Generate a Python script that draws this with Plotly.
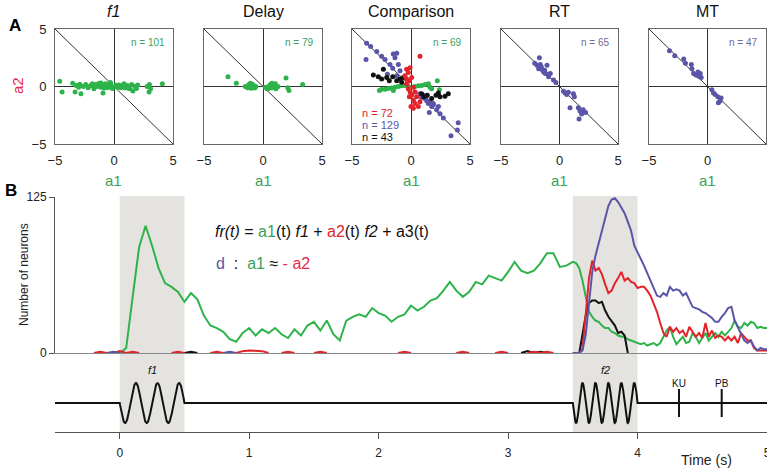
import numpy as np
import plotly.graph_objects as go

N = None
W, H = 767, 469

# ---------------- Panel B data ----------------
T1_START, T1_STEP, T1_LEN = -0.5, 0.05, 80     # -0.5 .. 3.45
T2_START, T2_STEP, T2_LEN = 3.5, 0.025, 61     # 3.5 .. 5.0
TIME = [round(T1_START + T1_STEP * i, 3) for i in range(T1_LEN)] + \
       [round(T2_START + T2_STEP * i, 3) for i in range(T2_LEN)]

green_t1 = [N, N, N, N, N, N, N, N, N, N,
            0, 4, 45, 85, 102, 86, 68, 56, 53, 49,
            41, 48, 43, 30, 22, 20, 17, 11, 9, 16,
            20, 14, 19, 16, 20, 15, 12, 19, 14, 22,
            25, 18, 26, 15, 10, 26, 29, 31, 29, 36,
            32, 30, 25, 29, 31, 38, 34, 37, 42, 44,
            50, 57, 50, 45, 49, 57, 55, 62, 60, 58,
            65, 73, 66, 64, 66, 72, 80, 80, 69, 70]
green_t2 = [73, 72, 68, 58, 45, 33, 29, 26, 25, 22,
            20, 20, 17, 16, 14, 13, 13, 11, 10, 9,
            8, 7, 8, 6, 7, 8, 6, 8, 13, 18,
            21, 13, 7, 10, 13, 8, 9, 16, 13, 8,
            12, 16, 10, 13, 16, 13, 17, 14, 17, 20,
            26, 21, 20, 24, 22, 25, 24, 20, 21, 20,
            20]

red_t1 = [N, N, N, N, N, N, 0, 1, 0, 0,
          1.5, 0, 1, 0, N, N, N, N, 0, 1,
          0, N, N, N, 0, 1, 0, N, 0, 1.5,
          2, 2, 1.5, 0, N, 0, 1, 0, N, N,
          0, 1, 0, N, N, N, N, N, N, N,
          N, N, N, 0, 1, 0, N, N, N, N,
          N, N, 0, 1, 0, N, N, N, 0, 1,
          0, N, N, 0, 1, 0, 1, 0, N, N]
red_t2 = [0, 0, 0, 3, 30, 60, 74, 66, 68, 63,
          55, 48, 50, 56, 60, 65, 58, 60, 57, 56,
          52, 53, 53, 50, 46, 40, 33, 24, 16, 13,
          21, 17, 20, 16, 18, 13, 21, 17, 13, 16,
          12, 24, 13, 18, 12, 14, 13, 10, 13, 10,
          13, 8, 16, 13, 10, 10, 4, 2, 2, 2,
          2]

blue_t1 = [N, N, N, N, N, N, N, N, 0, 1,
           0, N, N, N, N, N, N, N, N, N,
           N, N, N, N, N, N, 0, 1, 0, N,
           N, N, N, N, N, N, N, N, N, N,
           N, N, N, N, N, N, N, N, N, N,
           N, N, N, N, N, N, N, N, N, N,
           N, N, N, N, N, N, N, N, N, N,
           N, N, N, N, N, N, N, N, N, N]
blue_t2 = [0, 0, 0, 2, 15, 40, 65, 78, 88, 98,
           109, 118, 123, 124, 121, 117, 112, 105, 98, 86,
           81, 76, 70, 64, 58, 53, 46, 45, 48, 46,
           53, 50, 51, 50, 46, 48, 42, 37, 36, 35,
           33, 32, 30, 28, 25, 25, 29, 32, 36, 37,
           26, 21, 16, 10, 8, 10, 5, 2, 4, 3,
           3]

black_t1 = [N, N, N, N, N, N, N, N, N, N,
            N, N, N, N, N, N, N, N, N, N,
            0, 1, 0, N, N, N, N, N, N, N,
            N, N, N, N, N, N, N, N, N, N,
            N, N, N, N, N, N, N, N, N, N,
            N, N, N, N, N, N, N, N, N, N,
            N, N, N, N, N, N, N, N, N, N,
            N, N, 0, 1.5, 0, 1, 0, N, N, N]
black_t2 = [0, 0, 0, 15, 30, 40, 42, 42, 40, 41,
            34, 29, 25, 22, 16, 17, 14, 0, N, N] + [N] * 41

GREEN_B = green_t1 + green_t2
RED_B = red_t1 + red_t2
BLUE_B = blue_t1 + blue_t2
BLACK_B = black_t1 + black_t2

# stimulus schematic parameters
STIM_ONSETS = [0.0, 3.5]
STIM_DUR = 0.5
STIM_CYCLES = [3, 5]
STIM_LABELS = ["f1", "f2"]
EVENT_TIMES = [4.32, 4.65]
EVENT_LABELS = ["KU", "PB"]
X_TICKS_B = [0, 1, 2, 3, 4, 5]

# ---------------- Panel A data ----------------
PANEL_TITLES = ["<i>f1</i>", "Delay", "Comparison", "RT", "MT"]

F1_A1 = [-4.6, -4.4, -3.5, -3.3, -3.2, -3.0, -2.8, -2.6, -2.4, -2.2, -2.0, -1.84, -1.7, -1.55, -1.4, -1.27,
         -1.13, -1.0, -0.93, -0.85, -0.7, -0.56, -0.42, -0.28, -0.14, 0.28, 0.42, 0.56, 0.7, 0.85, 1.0,
         1.13, 1.33, 1.5, 1.6, 1.78, 1.9, 2.0, 2.8, 2.97, 3.1, 3.0, 4.1,
         -1.2, -0.9, -0.6, -1.6, -2.9, -0.3, 0.15, -1.1, -0.5, 1.2, 0.9]
F1_A2 = [0.45, -0.48, 0.28, -0.48, 0.08, -0.06, -0.62, 0.0, 0.17, -0.11, 0.06, 0.23, -0.2, 0.17, 0.0, 0.28,
         -0.06, 0.17, -0.56, -0.14, 0.23, 0.06, -0.06, 0.17, -0.17, -0.06, 0.14, -0.11, 0.06, 0.23, -0.06,
         0.08, -0.2, 0.17, -0.4, 0.0, -0.17, 0.14, 0.0, -0.48, -0.2, 0.17, 0.23,
         0.1, 0.05, -0.1, 0.05, 0.2, 0.35, 0.1, 0.3, 0.2, -0.15, -0.1]

DELAY_A1 = [-2.97, -2.26, -1.5, -1.2, -1.07, -0.93, -0.8, -0.7, -0.6, 0.48, 0.62, 0.76, 0.82, 0.9, 1.05,
            1.1, 1.27, 1.95, 2.1, 2.2, 3.36, 0.2, 0.34, -1.3, -0.9, 0.7, 1.0, 0.55, -1.0]
DELAY_A2 = [0.85, 0.28, 0.0, 0.17, 0.28, -0.06, 0.08, -0.14, 0.0, 0.0, 0.17, 0.28, -0.11, 0.08, 0.23,
            -0.2, 0.0, 0.73, -0.11, -0.34, 0.17, -0.06, -0.2, -0.1, 0.2, 0.05, -0.05, -0.15, -0.15]

CMP_BLUE_A1 = [-3.76, -3.42, -3.81, -2.9, -2.49, -2.2, -1.5, -1.36, -1.21, -1.78, -1.55, -1.07, -0.93, -2.0,
               -1.21, 0.76, 0.9, 1.05, 1.19, 1.33, 1.47, 1.61, 1.75, 1.89, 1.55, 2.18, 2.32, 2.46, 1.89,
               2.74, 4.0, 3.93, 3.39, 1.27]
CMP_BLUE_A2 = [3.76, 3.47, 2.34, 3.05, 2.63, 2.34, 2.82, 2.49, 2.9, 1.92, 1.58, 1.92, 1.36, 1.07,
               0.93, -0.62, -0.96, -0.76, -1.05, -1.24, -1.47, -1.33, -1.75, -1.61, -2.26, -2.03, -1.75, -2.37,
               -1.47, -2.74, -3.16, -3.79, -4.29, -0.9]
CMP_RED_A1 = [0.76, -0.37, -0.23, -0.08, -0.51, -0.37, 0.06, -0.14, -0.23, -0.08, 0.06, 0.2, -0.14, 0.2,
              0.34, 0.62, 0.2, 0.48, 0.76, 0.0, 0.34, -0.37]
CMP_RED_A2 = [2.63, 1.5, 1.21, 1.64, 0.93, 0.65, 0.79, 0.51, -0.2, -0.48, -0.76, -0.06, -0.9, -1.19,
              -1.47, -1.75, -1.89, -0.9, -1.33, -1.75, -0.48, 0.23]
CMP_BLACK_A1 = [-3.19, -2.77, -2.49, -2.34, -2.06, -1.84, -1.55, -1.21, -0.93, -0.79, -0.65, 0.9, 1.1,
                1.38, 1.75, 2.12, 2.46, 2.88, 3.16, 2.32]
CMP_BLACK_A2 = [0.99, 0.85, 0.65, 1.5, 0.79, 0.51, 0.85, 0.51, 0.65, 0.37, 0.79, -0.62, -0.9,
                -0.76, -1.05, -0.76, -0.9, -0.85, -0.62, -0.56]
CMP_GREEN_A1 = [-2.68, -2.49, -2.2, -1.92, -1.64, -1.36, -1.07, -0.79, -0.51, -0.23, 0.34, 0.62, 0.9,
                1.19, 1.47, 1.75, 2.23, 2.4, 1.61, -1.5]
CMP_GREEN_A2 = [-0.34, -0.25, -0.23, -0.17, -0.14, -0.06, 0.0, 0.06, 0.08, 0.0, 0.0, 0.06, 0.08,
                0.17, 0.23, -0.2, 0.51, -0.28, -0.06, -0.34]

RT_A1 = [-1.72, -2.12, -1.92, -1.64, -1.07, -1.78, -1.5, -1.36, -1.21, -1.0, -0.79, -0.93, -0.51, -0.31,
         0.34, 0.48, 0.62, 0.76, 1.19, 1.27, 0.9, 1.61, 1.75, 2.03, 2.23, 1.67, 1.89, -1.55, -1.27]
RT_A2 = [2.49, 2.03, 1.84, 1.92, 1.84, 1.55, 1.47, 1.27, 1.13, 1.07, 1.13, 0.85, 0.56, 0.34,
         -0.42, -0.56, -0.7, -0.5, -0.62, -0.9, -1.84, -1.84, -2.12, -2.03, -2.26, -2.82, -2.4, 1.7, 1.41]
MT_A1 = [-3.25, -2.8, -2.03, -1.89, -1.38, -1.33, -1.19, -0.99, -0.76, -0.54, -0.62, 0.37, 0.51, 0.65,
         0.88, 1.07, 0.93, 1.16, -0.82]
MT_A2 = [3.1, 2.68, 2.4, 2.03, 1.92, 1.55, 1.13, 0.99, 0.9, 0.79, 1.13, -0.28, -0.56, -0.7,
         -0.9, -1.27, -1.41, -0.99, 1.27]

N_LABELS = ["n = 101", "n = 79", "n = 69", "n = 65", "n = 47"]
CMP_N_LABELS = ["n = 72", "n = 129", "n = 43"]
A_TICKS = [-5, 0, 5]
DIAG_X = [-5, 5]
DIAG_Y = [5, -5]

# ---------------- colours ----------------
GREEN = "#2db34a"
GREEN_T = "#3a9f5c"
RED = "#e3232a"
RED_T = "#e6294e"
BLUE = "#5a55a8"
BLACK = "#111111"
FONT = "Liberation Sans"


def xp(px):
    return px / W


def yp(py):
    return 1 - py / H


def ann(x, y, text, size, color, xanchor="center", xref="paper", **kw):
    return dict(x=x, y=y, xref=xref, yref="paper", text=text, showarrow=False,
                xanchor=xanchor, yanchor="middle",
                font=dict(size=size, color=color, family=FONT), **kw)


fig = go.Figure()

# ---- panel B curves
for vals, col in [(GREEN_B, GREEN), (BLACK_B, BLACK), (RED_B, RED), (BLUE_B, BLUE)]:
    fig.add_trace(go.Scatter(x=TIME, y=vals, mode="lines", line=dict(color=col, width=2),
                             connectgaps=False, xaxis="x", yaxis="y", showlegend=False, hoverinfo="skip"))

# ---- stimulus schematic
st_x, st_y = [-0.5], [0.0]
for on, cyc in zip(STIM_ONSETS, STIM_CYCLES):
    tt = np.linspace(on, on + STIM_DUR, 200)
    st_x += list(tt)
    st_y += list(-np.sin(2 * np.pi * cyc * (tt - on) / STIM_DUR))
st_x.append(5.0)
st_y.append(0.0)
fig.add_trace(go.Scatter(x=st_x, y=st_y, mode="lines", line=dict(color=BLACK, width=2),
                         xaxis="x2", yaxis="y2", showlegend=False, hoverinfo="skip"))
fig.add_trace(go.Scatter(x=EVENT_TIMES, y=[0] * len(EVENT_TIMES), mode="markers",
                         marker=dict(symbol="line-ns-open", size=20, color=BLACK,
                                     line=dict(color=BLACK, width=2)),
                         xaxis="x2", yaxis="y2", showlegend=False, hoverinfo="skip"))

# ---- panel A scatters
panels_px = [(55, 173), (204, 322), (352, 470), (501, 618), (649, 766)]
A_TOP, A_BOT = 29, 144
groups = [
    [(F1_A1, F1_A2, GREEN)],
    [(DELAY_A1, DELAY_A2, GREEN)],
    [(CMP_GREEN_A1, CMP_GREEN_A2, GREEN), (CMP_BLUE_A1, CMP_BLUE_A2, BLUE),
     (CMP_BLACK_A1, CMP_BLACK_A2, BLACK), (CMP_RED_A1, CMP_RED_A2, RED)],
    [(RT_A1, RT_A2, BLUE)],
    [(MT_A1, MT_A2, BLUE)],
]
layout_axes = {}
annotations = []
for i, ((x0, x1), grp) in enumerate(zip(panels_px, groups)):
    k = i + 3
    xa, ya = f"x{k}", f"y{k}"
    fig.add_trace(go.Scatter(x=DIAG_X, y=DIAG_Y, mode="lines", line=dict(color="#333", width=1),
                             xaxis=xa, yaxis=ya, showlegend=False, hoverinfo="skip"))
    for a1, a2, col in grp:
        fig.add_trace(go.Scatter(x=a1, y=a2, mode="markers", marker=dict(color=col, size=5),
                                 xaxis=xa, yaxis=ya, showlegend=False, hoverinfo="skip"))
    layout_axes[f"xaxis{k}"] = dict(domain=[xp(x0), xp(x1)], range=[-5, 5], anchor=ya,
                                    showline=True, mirror=True, linecolor="#666", linewidth=1,
                                    showgrid=False, zeroline=True, zerolinecolor="#333", zerolinewidth=1,
                                    tickvals=A_TICKS, ticks="", ticklabelstandoff=4,
                                    tickfont=dict(size=13, color="#222", family=FONT))
    layout_axes[f"yaxis{k}"] = dict(domain=[yp(A_BOT), yp(A_TOP)], range=[-5, 5], anchor=xa,
                                    showline=True, mirror=True, linecolor="#666", linewidth=1,
                                    showgrid=False, zeroline=True, zerolinecolor="#333", zerolinewidth=1,
                                    tickvals=A_TICKS, ticks="", showticklabels=(i == 0), ticklabelstandoff=5,
                                    tickfont=dict(size=13, color="#222", family=FONT))
    cx = (x0 + x1) / 2
    annotations.append(ann(xp(cx), yp(12), PANEL_TITLES[i], 16, "#111"))
    annotations.append(ann(xp(cx), yp(180), "a1", 15, GREEN_T))
    ncol = GREEN_T if i < 3 else "#6e6c9e"
    annotations.append(ann(xp(x1 - 6), yp(42), N_LABELS[i], 10, ncol, xanchor="right"))

for txt, col, py in zip(CMP_N_LABELS, [RED, BLUE, BLACK], [113, 125, 137]):
    annotations.append(ann(xp(360), yp(py), txt, 11, col, xanchor="left"))

annotations.append(ann(xp(18), yp(86), "a2", 15, RED_T, textangle=-90))
annotations.append(ann(xp(15), yp(26), "<b>A</b>", 17, "#000"))
annotations.append(ann(xp(11), yp(191), "<b>B</b>", 17, "#000"))
annotations.append(ann(xp(24), yp(275), "Number of neurons", 12, "#222", textangle=-90))

eq1 = (f"<i>fr(t)</i> = <span style='color:{GREEN_T}'>a1</span>(t) <i>f1</i> + "
       f"<span style='color:{RED}'>a2</span>(t) <i>f2</i> + a3(t)")
eq2 = (f"<span style='color:{BLUE}'>d</span>  :  <span style='color:{GREEN_T}'>a1</span> ≈ "
       f"<span style='color:{RED_T}'>- a2</span>")
annotations.append(ann(xp(213), yp(231), eq1, 16, "#111", xanchor="left"))
annotations.append(ann(xp(214), yp(263), eq2, 16, "#111", xanchor="left"))

for on, lab in zip(STIM_ONSETS, STIM_LABELS):
    annotations.append(ann(on + STIM_DUR / 2, yp(370), f"<i>{lab}</i>", 11, "#111", xref="x2"))
for t, lab in zip(EVENT_TIMES, EVENT_LABELS):
    annotations.append(ann(t, yp(383), lab, 10, "#111", xref="x2"))
annotations.append(ann(xp(706), yp(460), "Time (s)", 14, "#222"))

shapes = []
for on in STIM_ONSETS:
    shapes.append(dict(type="rect", xref="x", yref="paper", x0=on, x1=on + STIM_DUR,
                       y0=yp(432), y1=yp(196), fillcolor="#e5e3df", line=dict(width=0), layer="below"))

fig.update_layout(
    width=W, height=H, margin=dict(l=0, r=0, t=0, b=0, autoexpand=False),
    paper_bgcolor="white", plot_bgcolor="rgba(0,0,0,0)",
    font=dict(family=FONT, color="#222"),
    showlegend=False,
    xaxis=dict(domain=[xp(55), 1.0], range=[-0.5, 5], anchor="y", showline=True, linecolor="#888",
               linewidth=1, showgrid=False, zeroline=False, showticklabels=False, ticks=""),
    yaxis=dict(domain=[yp(353), yp(197)], range=[0, 125], anchor="x", showline=True, linecolor="#555",
               linewidth=1, showgrid=False, zeroline=False, tickvals=[0, 125], ticks="outside",
               ticklen=5, tickcolor="#555", tickfont=dict(size=12, color="#222", family=FONT)),
    xaxis2=dict(domain=[xp(55), 1.0], range=[-0.5, 5], anchor="y2", showline=True, linecolor="#555",
                linewidth=1, showgrid=False, zeroline=False, tickvals=X_TICKS_B, ticks="outside",
                ticklen=6, tickcolor="#555", ticklabelstandoff=4, ticklabeloverflow="allow",
                tickfont=dict(size=12, color="#222", family=FONT)),
    yaxis2=dict(domain=[yp(432), yp(374)], range=[-1.45, 1.45], anchor="x2", visible=False),
    annotations=annotations,
    shapes=shapes,
    **layout_axes,
)

fig.write_html("out.html",
               post_script="document.body.style.margin='0';document.body.style.overflow='hidden';")
